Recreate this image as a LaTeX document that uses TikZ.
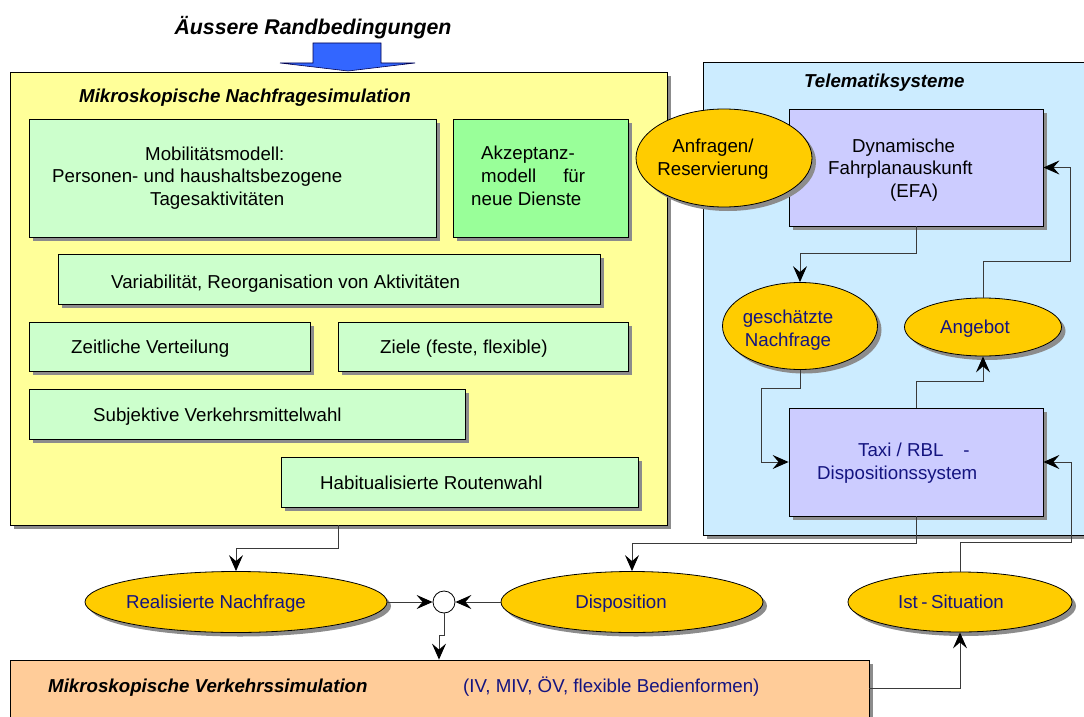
\documentclass[tikz,border=0pt]{standalone}
\usepackage{fontspec}
\setmainfont{Liberation Sans}
\usetikzlibrary{shapes.geometric,shadows,arrows.meta}

\definecolor{nachgelb}{HTML}{FFFF99}
\definecolor{hellgruen}{HTML}{CCFFCC}
\definecolor{akzgruen}{HTML}{99FF99}
\definecolor{telblau}{HTML}{CCECFF}
\definecolor{lila}{HTML}{CCCCFF}
\definecolor{ovalgelb}{HTML}{FFCC00}
\definecolor{vsorange}{HTML}{FFCC99}
\definecolor{pfeilblau}{HTML}{3366FF}
\definecolor{schatten}{HTML}{8C8C8C}
\definecolor{textblau}{HTML}{141480}
\definecolor{linie}{HTML}{3A3A3A}

\begin{document}
\begin{tikzpicture}[x=1pt,y=-1pt,
  every node/.style={font=\fontsize{18.7}{22.8}\selectfont, inner sep=0pt},
  shadowed/.style={drop shadow={shadow xshift=4pt,shadow yshift=-4pt,fill=schatten,opacity=1}},
  container/.style={draw=black,line width=0.8pt,shadowed},
  box/.style={draw=black,line width=0.8pt,shadowed,fill=hellgruen},
  sysbox/.style={draw=black,line width=0.8pt,shadowed,fill=lila},
  oval/.style={ellipse,draw=black,line width=0.8pt,shadowed,fill=ovalgelb},
  txt/.style={anchor=base west},
  heading/.style={anchor=base west,font=\fontsize{18.7}{22.8}\selectfont\bfseries\itshape},
  blautext/.style={text=textblau},
  conn/.style={draw=linie,line width=1pt,-{Stealth[length=16pt,width=14pt,inset=6pt,color=black]}}
]
\useasboundingbox (0,0) rectangle (1084,717);

% containers
\node[container,fill=nachgelb,minimum width=657pt,minimum height=453pt] (ynach) at (338.5,298.5) {};
\node[container,fill=telblau,minimum width=397pt,minimum height=473pt] (tele) at (901.5,298.5) {};

% input arrow from above
\draw[fill=pfeilblau,draw=black!70!blue,line width=0.6pt]
  (313,43) -- (381,43) -- (381,63) -- (415,63) -- (348,71) -- (280,63) -- (313,63) -- cycle;
\node[anchor=base,font=\fontsize{21.3}{25}\selectfont\bfseries\itshape] (titel) at (313,35) {Äussere Randbedingungen};

% demand simulation
\node[heading] (ntitel) at (79,102) {Mikroskopische Nachfragesimulation};
\node[box,minimum width=407pt,minimum height=118pt] (mob) at (232.5,178) {};
\node[box,fill=akzgruen,minimum width=175pt,minimum height=118pt] (akz) at (540.5,178) {};
\node[box,minimum width=542pt,minimum height=50pt] (var) at (329,279) {};
\node[box,minimum width=281pt,minimum height=49pt] (zeit) at (169.5,346.5) {};
\node[box,minimum width=290pt,minimum height=49pt] (ziele) at (483,346.5) {};
\node[box,minimum width=436pt,minimum height=50pt] (subj) at (247,414) {};
\node[box,minimum width=357pt,minimum height=50pt] (hab) at (459.5,482) {};

\node[anchor=west,align=left] (mobt) at (52,178)
  {\hspace*{93pt}Mobilitätsmodell:\\Personen- und haushaltsbezogene\\\hspace*{98pt}Tagesaktivitäten};
\node[anchor=west,align=left] (akzt) at (471,176)
  {\hspace*{10pt}Akzeptanz-\\\hspace*{10pt}modell\hspace{27pt}für\\neue Dienste};
\node[txt] (vart) at (111,288) {Variabilität, Reorganisation von Aktivitäten};
\node[txt] (zeitt) at (71,353) {Zeitliche Verteilung};
\node[txt] (zielet) at (380,353) {Ziele (feste, flexible)};
\node[txt] (subjt) at (93,421) {Subjektive Verkehrsmittelwahl};
\node[txt] (habt) at (320,489) {Habitualisierte Routenwahl};

% telematics
\node[heading] (ttitel) at (804,88) {Telematiksysteme};
\node[sysbox,minimum width=254pt,minimum height=117pt] (efa) at (916,167.5) {};
\node[sysbox,minimum width=254pt,minimum height=108pt] (taxi) at (916,462) {};
\node[oval,minimum width=176pt,minimum height=98pt] (anf) at (724,158) {};
\node[oval,minimum width=155pt,minimum height=87pt] (gn) at (800,326) {};
\node[oval,minimum width=157pt,minimum height=58pt] (ang) at (983,327) {};

\node[anchor=west,align=left] (efat) at (828,170)
  {\hspace*{24pt}Dynamische\\Fahrplanauskunft\\\hspace*{62pt}(EFA)};
\node[anchor=west,align=left,blautext] (taxit) at (817,463)
  {\hspace*{41pt}Taxi / RBL\hspace{20pt}-\\Dispositionssystem};
\node[align=center] (anft) at (713,159) {Anfragen/\\Reservierung};
\node[align=center,blautext] (gnt) at (788,330) {geschätzte\\Nachfrage};
\node[anchor=base,blautext] (angt) at (975,333) {Angebot};

% lower row
\node[oval,minimum width=302pt,minimum height=61pt] (rn) at (236,602) {};
\node[oval,minimum width=262pt,minimum height=61pt] (disp) at (632,602) {};
\node[oval,minimum width=224pt,minimum height=60pt] (ist) at (960,602) {};
\node[circle,draw=black,line width=0.8pt,fill=white,minimum size=22pt] (jc) at (444,602) {};
\node[anchor=base,blautext] (rnt) at (216,608) {Realisierte Nachfrage};
\node[anchor=base,blautext] (dispt) at (621,608) {Disposition};
\node[anchor=base,blautext] (istt) at (951,608) {Ist\hspace{3.5pt}-\hspace{3.5pt}Situation};

% traffic simulation
\node[container,fill=vsorange,minimum width=859pt,minimum height=80pt] (ov) at (439.5,700) {};
\node[heading] (ovt) at (48,692) {Mikroskopische Verkehrssimulation};
\node[txt,blautext] (ovt2) at (463,692) {(IV, MIV, ÖV, flexible Bedienformen)};

% connector end points on container edges
\coordinate (ynout) at (338,525);
\coordinate (ovout) at (869,688);

% connectors
\draw[conn] (ynout) -- ++(0,23) -| (rn.north);
\draw[conn] (rn.east) -- (jc.west);
\draw[conn] (disp.west) -- (jc.east);
\draw[conn] (jc.south) -- ++(0,22) -- ++(-5,0) coordinate (jk) -- (jk |- ov.north);
\draw[conn] (taxi.south) -- ++(0,27) -| (disp.north);
\draw[conn] (ist.north) -- ++(0,-29) -- ++(111,0) |- (taxi.east);
\draw[conn] (ovout) -| (ist.south);
\draw[conn] (efa.south) -- ++(0,27) -| (gn.north);
\draw[conn] (gn.south) -- ++(0,19) -- ++(-39,0) |- (taxi.west);
\draw[conn] (taxi.north) -- ++(0,-26) -| (ang.south);
\draw[conn] (ang.north) -- ++(0,-36) -- ++(87,0) |- (efa.east);
\end{tikzpicture}
\end{document}
